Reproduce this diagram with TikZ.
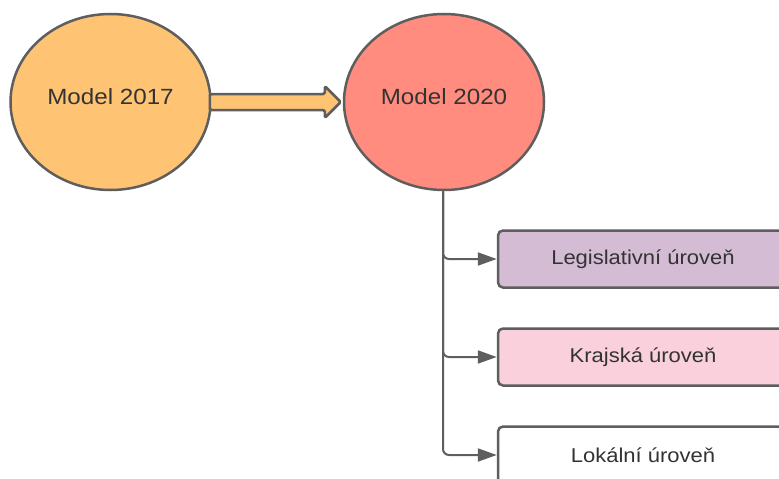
\documentclass[tikz,border=0pt]{standalone}
\usepackage{fontspec}
\setmainfont[FakeStretch=1.1]{Liberation Sans}
\usetikzlibrary{shapes.geometric,arrows.meta,calc}
\definecolor{edge}{HTML}{5E5E5E}
\definecolor{txt}{HTML}{333333}
\definecolor{orangefill}{HTML}{FFC374}
\definecolor{redfill}{HTML}{FF8C7F}
\definecolor{purplefill}{HTML}{D4BCD4}
\definecolor{pinkfill}{HTML}{F9D0DC}
\tikzset{
  x=1pt,y=-1pt,
  oval/.style={ellipse,draw=edge,line width=2.5pt,inner sep=0pt,minimum width=200pt,minimum height=176pt},
  ovallabel/.style={text=txt,font=\fontsize{22}{26}\selectfont},
  levelbox/.style={rectangle,draw=edge,line width=2.5pt,rounded corners=5pt,minimum width=290pt,minimum height=57pt,inner sep=0pt,text=txt,font=\fontsize{20}{24}\selectfont},
  conn/.style={draw=edge,line width=2pt,rounded corners=6pt,-{Triangle[length=19pt,width=13pt]}},
  blockarrow/.style={draw=edge,line width=2.5pt,fill=orangefill,line join=round,rounded corners=1.5pt}
}
\begin{document}
\begin{tikzpicture}
\useasboundingbox (0,0) rectangle (779,479);
\clip (0,0) rectangle (779,479);
\node[oval,fill=orangefill,label={[ovallabel,yshift=5pt]center:Model 2017}] (m17) at (110.5,102) {};
\node[oval,fill=redfill,label={[ovallabel,yshift=5pt]center:Model 2020}] (m20) at (444,102) {};
\node[levelbox,fill=purplefill] (r1) at (643,259) {Legislativní úroveň};
\node[levelbox,fill=pinkfill] (r2) at (643,357) {Krajská úroveň};
\node[levelbox,fill=white] (r3) at (643,455) {Lokální úroveň};
% block arrow between ellipses
\path[blockarrow] ($(m17.east)+(-2,-8)$) -- ($(m20.west)+(-18,-8)$) -- ($(m20.west)+(-18,-16)$)
  -- ($(m20.west)+(-2,0)$) -- ($(m20.west)+(-18,16)$) -- ($(m20.west)+(-18,8)$)
  -- ($(m17.east)+(-2,8)$) -- cycle;
\draw[conn] ($(m20.south)+(-1,0)$) |- (r1.west);
\draw[conn] ($(m20.south)+(-1,0)$) |- (r2.west);
\draw[conn] ($(m20.south)+(-1,0)$) |- (r3.west);
\end{tikzpicture}
\end{document}
